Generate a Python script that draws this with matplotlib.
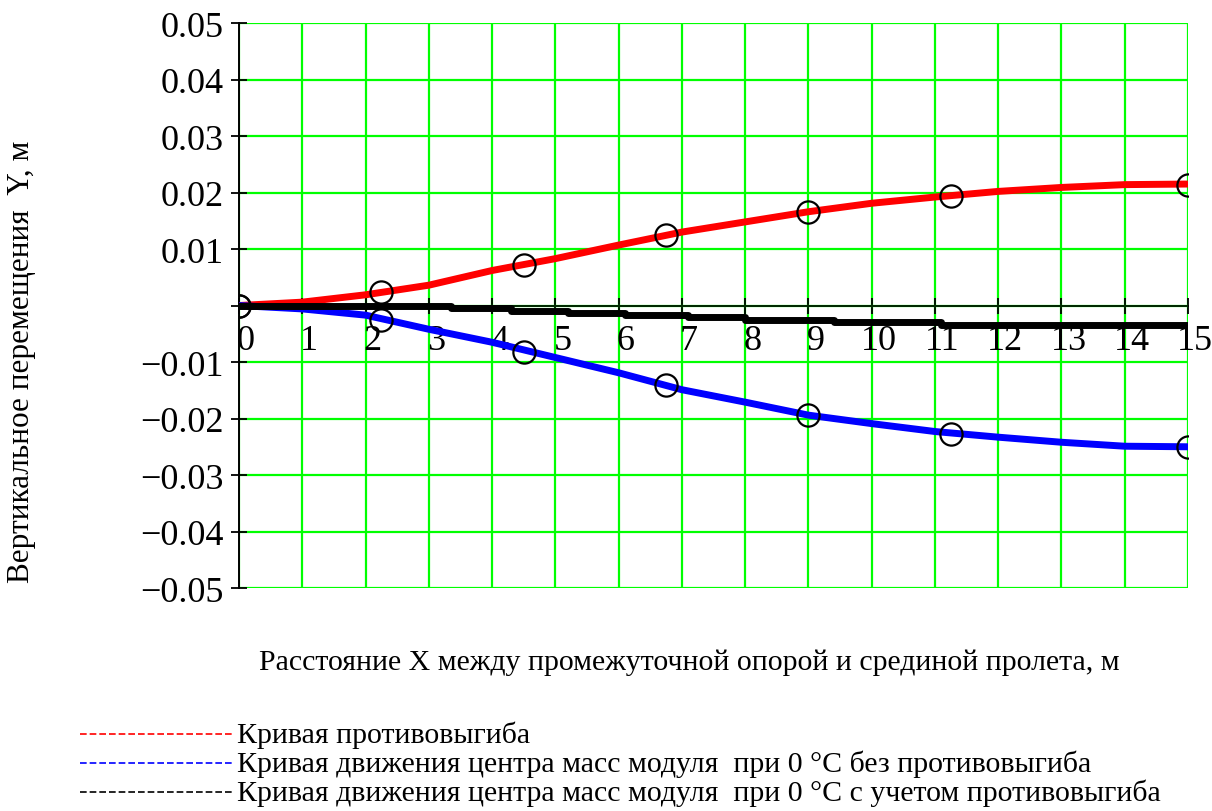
import numpy as np
import matplotlib
matplotlib.use("Agg")
import matplotlib.pyplot as plt
from matplotlib.lines import Line2D
from matplotlib.transforms import ScaledTranslation

plt.rcParams["font.family"] = ["Liberation Serif", "DejaVu Serif"]

# distance along the span, m
x = [0, 1, 2, 3, 4, 5, 6, 7, 8, 9, 10, 11, 12, 13, 14, 15]
# camber curve
y_camber = [0.0, 0.0006, 0.0019, 0.0036, 0.0062, 0.0083, 0.0107, 0.0130,
            0.0148, 0.0166, 0.0181, 0.0192, 0.0202, 0.0209, 0.0214, 0.0215]
# centre of mass path at 0 °C without camber
y_no_camber = [0.0, -0.0006, -0.0017, -0.0042, -0.0065, -0.0092, -0.0119, -0.0149,
               -0.0171, -0.0194, -0.0209, -0.0223, -0.0233, -0.0242, -0.0249, -0.0250]

# centre of mass path at 0 °C with camber (step values)
x_total = [0, 3.35, 4.3, 5.2, 6.1, 7.1, 8.0, 9.4, 11.1, 15]
y_total = [0.0, -0.0005, -0.0010, -0.0013, -0.0016, -0.0020, -0.0025, -0.0030, -0.0034, -0.0034]

# control points marked with circles
x_marks = [0, 2.25, 4.5, 6.75, 9, 11.25, 15]
camber_marks = [0.0, 0.0024, 0.0072, 0.0124, 0.0166, 0.0194, 0.0214]
no_camber_marks = [0.0, -0.0025, -0.0082, -0.0140, -0.0194, -0.0227, -0.0250]

x_ticks = list(range(0, 16))
y_ticks = [-0.05, -0.04, -0.03, -0.02, -0.01, 0.0, 0.01, 0.02, 0.03, 0.04, 0.05]
y_ticklabels = ["\u22120.05", "\u22120.04", "\u22120.03", "\u22120.02", "\u22120.01", "",
                "0.01", "0.02", "0.03", "0.04", "0.05"]

legend_labels = [
    "Кривая противовыгиба",
    "Кривая движения центра масс модуля  при 0 °С без противовыгиба",
    "Кривая движения центра масс модуля  при 0 °С с учетом противовыгиба",
]
colors = ["#ff0000", "#0000ff", "#000000"]

fig = plt.figure(figsize=(12.12, 8.12), dpi=100)
ax = fig.add_axes([0.1972, 0.2746, 0.7830, 0.6958])

ax.plot(x, y_camber, color=colors[0], lw=5, zorder=3, solid_capstyle="butt")
ax.plot(x, y_no_camber, color=colors[1], lw=5, zorder=3, solid_capstyle="butt")
ax.plot(x_total, y_total, color=colors[2], lw=5, zorder=4, drawstyle="steps-post")

for ys in (camber_marks, no_camber_marks):
    ax.plot(x_marks, ys, linestyle="none", marker="o", ms=16, mfc="none",
            mec="black", mew=1.6, zorder=5)

ax.set_xlim(0, 15)
ax.set_ylim(-0.05, 0.05)
ax.set_xticks(x_ticks)
ax.set_yticks(y_ticks)
ax.set_yticklabels(y_ticklabels)

ax.grid(True, color="#00ff00", lw=1.6)
ax.set_axisbelow(True)

for side in ("top", "right"):
    ax.spines[side].set_visible(False)
ax.spines["bottom"].set_position(("data", 0))
ax.spines["bottom"].set_linewidth(1.2)
ax.spines["left"].set_linewidth(1.4)

ax.tick_params(axis="both", direction="inout", length=12, width=1.3, labelsize=26)
ax.tick_params(axis="y", pad=5)
ax.tick_params(axis="x", pad=7)

shift = ScaledTranslation(7 / 100, 0, fig.dpi_scale_trans)
for lab in ax.get_xticklabels():
    lab.set_transform(lab.get_transform() + shift)

fig.text(689 / 1212, 1 - 663 / 812, "Расстояние X между промежуточной опорой и срединой пролета, м",
         ha="center", va="center", fontsize=21.5)
fig.text(22 / 1212, 1 - 362 / 812, "Вертикальное перемещения  Y, м",
         ha="center", va="center", rotation=90, fontsize=22.5)

for i, (lab, c) in enumerate(zip(legend_labels, colors)):
    yy = 1 - (735 + 29 * i) / 812
    fig.add_artist(Line2D([80 / 1212, 232 / 1212], [yy, yy], color=c, lw=1.2,
                          dashes=(4, 1.8), transform=fig.transFigure))
    fig.text(237 / 1212, yy, lab, ha="left", va="center", fontsize=21.5)

fig.savefig("out.png", dpi=100)
